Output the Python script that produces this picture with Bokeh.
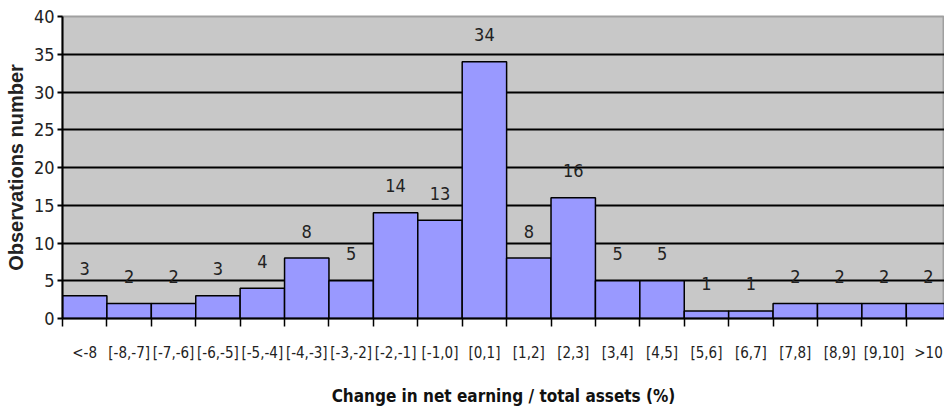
from bokeh.plotting import figure
from bokeh.models import FixedTicker, ColumnDataSource, Range1d
from bokeh.embed import file_html
from bokeh.resources import INLINE
from bokeh.core.properties import value

categories = ["<-8", "[-8,-7]", "[-7,-6]", "[-6,-5]", "[-5,-4]", "[-4,-3]", "[-3,-2]",
              "[-2,-1]", "[-1,0]", "[0,1]", "[1,2]", "[2,3]", "[3,4]", "[4,5]",
              "[5,6]", "[6,7]", "[7,8]", "[8,9]", "[9,10]", ">10"]
counts = [3, 2, 2, 3, 4, 8, 5, 14, 13, 34, 8, 16, 5, 5, 1, 1, 2, 2, 2, 2]
y_ticks = [0, 5, 10, 15, 20, 25, 30, 35, 40]

n = len(categories)
centers = [i + 0.5 for i in range(n)]
src = ColumnDataSource(dict(x=centers, top=counts, label=[str(c) for c in counts]))

NARROW = "'DejaVu Sans Condensed', 'Roboto Condensed', Roboto, sans-serif"

p = figure(width=944, height=415, output_backend="svg", toolbar_location=None,
           x_range=Range1d(0, 19.86), y_range=Range1d(0, 40),
           min_border_left=62, min_border_right=0, min_border_top=16, min_border_bottom=97)
p.frame_width = 882
p.frame_height = 302

p.background_fill_color = "#C8C8C8"
p.border_fill_color = "white"
p.outline_line_color = "#A0A0A0"
p.outline_line_width = 2

p.vbar(x="x", top="top", width=1.0, bottom=0, source=src,
       fill_color="#9999FF", line_color="black", line_width=1.5)

p.text(x="x", y="top", text="label", source=src, y_offset=-27,
       text_align="center", text_baseline="middle",
       text_font=value(NARROW), text_font_size="18px", text_color="#222222")

# y grid
p.xgrid.visible = False
p.ygrid.ticker = FixedTicker(ticks=[5, 10, 15, 20, 25, 30, 35])
p.ygrid.grid_line_color = "black"
p.ygrid.grid_line_width = 2

# y axis
p.yaxis.ticker = FixedTicker(ticks=y_ticks)
p.yaxis.axis_line_color = "black"
p.yaxis.axis_line_width = 2
p.yaxis.major_tick_out = 5
p.yaxis.major_tick_in = 0
p.yaxis.major_tick_line_width = 2
p.yaxis.minor_tick_line_color = None
p.yaxis.major_label_standoff = 3
p.yaxis.major_label_text_font = NARROW
p.yaxis.major_label_text_font_size = "18px"
p.yaxis.major_label_text_color = "#222222"
p.yaxis.axis_label = "Observations number"
p.yaxis.axis_label_text_font = "Liberation Sans"
p.yaxis.axis_label_text_font_style = "bold"
p.yaxis.axis_label_text_font_size = "20px"
p.yaxis.axis_label_standoff = 4
p.yaxis.axis_label_text_color = "#222222"

# x axis
p.xaxis.ticker = FixedTicker(ticks=centers, minor_ticks=list(range(n + 1)))
p.xaxis.major_label_overrides = {c: lab for c, lab in zip(centers, categories)}
p.xaxis.axis_line_color = "black"
p.xaxis.axis_line_width = 2
p.xaxis.major_tick_line_color = None
p.xaxis.major_tick_out = 0
p.xaxis.major_tick_in = 0
p.xaxis.minor_tick_out = 8
p.xaxis.minor_tick_in = 0
p.xaxis.minor_tick_line_color = "black"
p.xaxis.minor_tick_line_width = 1.5
p.xaxis.major_label_standoff = 17
p.xaxis.major_label_text_font = NARROW
p.xaxis.major_label_text_font_size = "15px"
p.xaxis.major_label_text_color = "#222222"
p.xaxis.axis_label = "Change in net earning / total assets (%)"
p.xaxis.axis_label_text_font = NARROW
p.xaxis.axis_label_text_font_style = "bold"
p.xaxis.axis_label_text_font_size = "17px"
p.xaxis.axis_label_standoff = 21
p.xaxis.axis_label_text_color = "#111111"

open("out.html", "w").write(file_html(p, INLINE))
